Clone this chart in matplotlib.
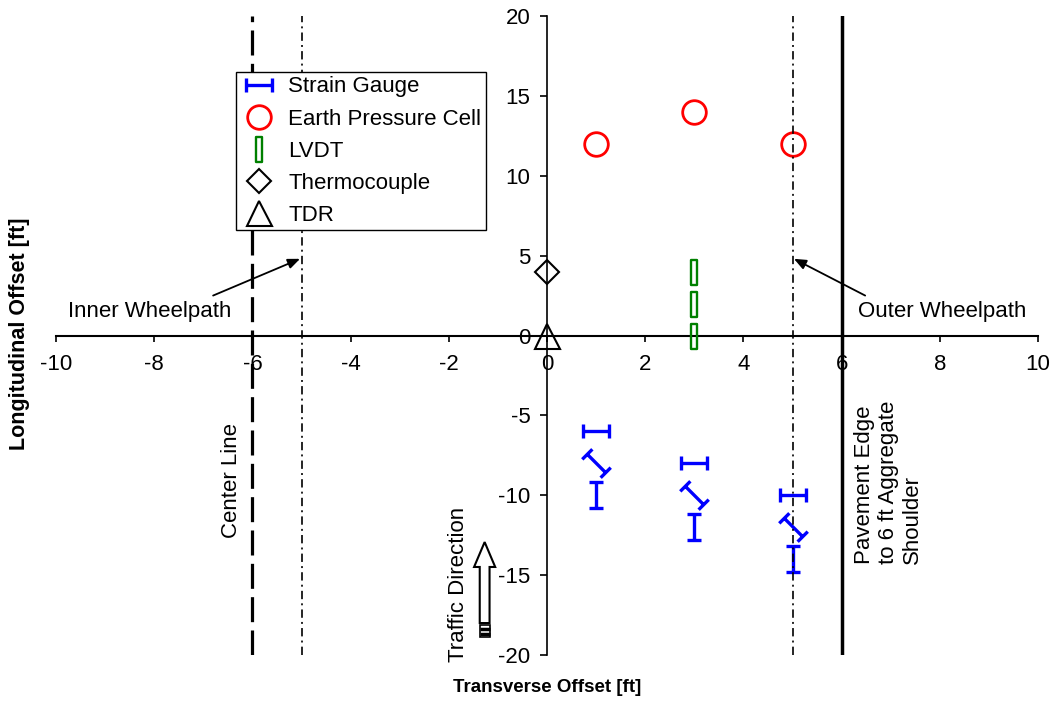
import numpy as np
import matplotlib
matplotlib.use('Agg')
import matplotlib.pyplot as plt
from matplotlib.path import Path
from matplotlib.transforms import Affine2D
from matplotlib.lines import Line2D
from matplotlib.patches import FancyArrow, Rectangle

plt.rcParams['font.family'] = ['Liberation Sans', 'DejaVu Sans']
plt.rcParams['lines.scale_dashes'] = False
plt.rcParams['axes.unicode_minus'] = False

# sensor layout [ft]
gauge_x = [1, 3, 5]
gauge_long_y = [-6, -8, -10]      # longitudinal gauges
gauge_diag_y = [-8, -10, -12]     # 45 deg gauges
gauge_trans_y = [-10, -12, -14]   # transverse gauges
epc_x = [1, 3, 5]
epc_y = [12, 14, 12]
lvdt_x = [3, 3, 3]
lvdt_y = [0, 2, 4]
thermo_x = [0]
thermo_y = [4]
tdr_x = [0]
tdr_y = [0]

center_line_x = -6
pavement_edge_x = 6
wheelpath_x = [-5, 5]

x_ticks = list(range(-10, 11, 2))
y_ticks = list(range(-20, 21, 5))


def gauge_marker(angle):
    verts = np.array([[-1, 0], [1, 0],
                      [-1, -0.55], [-1, 0.55],
                      [1, -0.55], [1, 0.55]])
    codes = [Path.MOVETO, Path.LINETO] * 3
    return Path(Affine2D().rotate_deg(angle).transform(verts), codes)


lvdt_marker = Path([[-0.23, -1], [0.23, -1], [0.23, 1], [-0.23, 1], [-0.23, -1]],
                   [Path.MOVETO, Path.LINETO, Path.LINETO, Path.LINETO, Path.CLOSEPOLY])

blue = '#0000FF'
red = '#FF0000'
green = '#008000'

fig = plt.figure(figsize=(10.55, 7.04), dpi=100)
ax = fig.add_axes([56 / 1055, 1 - 655 / 704, 982 / 1055, 639 / 704])

gauge_kw = dict(ls='none', color=blue, mfc='none', mec=blue, ms=19, mew=2.4, zorder=4)
ax.plot(gauge_x, gauge_long_y, marker=gauge_marker(0), **gauge_kw)
ax.plot(gauge_x, gauge_diag_y, marker=gauge_marker(-45), **dict(gauge_kw, ms=20.5))
ax.plot(gauge_x, gauge_trans_y, marker=gauge_marker(90), **gauge_kw)
ax.plot(epc_x, epc_y, ls='none', marker='o', mfc='none', mec=red, ms=17, mew=2, zorder=4)
ax.plot(lvdt_x, lvdt_y, ls='none', marker=lvdt_marker, mfc='none', mec=green,
        ms=18, mew=1.7, zorder=4)
ax.plot(thermo_x, thermo_y, ls='none', marker='D', mfc='none', mec='black',
        ms=12.5, mew=1.5, zorder=4)
ax.plot(tdr_x, tdr_y, ls='none', marker='^', mfc='none', mec='black',
        ms=18, mew=1.5, zorder=4)

# reference lines
ax.axvline(center_line_x, color='black', lw=2.3, dashes=(18, 6), zorder=5)
ax.axvline(pavement_edge_x, color='black', lw=2.5, zorder=5)
for wx in wheelpath_x:
    ax.axvline(wx, color='black', lw=1.2, dashes=(6, 3, 1.4, 3), zorder=5)

ax.set_xlim(-10, 10)
ax.set_ylim(-20, 20)
ax.set_xticks(x_ticks)
ax.set_yticks(y_ticks)
ax.spines['left'].set_position(('data', 0))
ax.spines['bottom'].set_position(('data', 0))
ax.spines['top'].set_visible(False)
ax.spines['right'].set_visible(False)
ax.spines['left'].set_linewidth(1.2)
ax.spines['bottom'].set_linewidth(1.5)
ax.tick_params(axis='x', direction='out', length=4, width=1.2, pad=9, labelsize=16)
ax.tick_params(axis='y', direction='out', length=5, width=1.2, pad=7, labelsize=16)

fig.text(547 / 1055, 1 - 688 / 704, 'Transverse Offset [ft]', ha='center', va='center',
         fontsize=13.5, fontweight='bold')
fig.text(20 / 1055, 1 - 334 / 704, 'Longitudinal Offset [ft]', ha='center', va='center',
         rotation=90, fontsize=15.5, fontweight='bold')

# wheelpath call-outs
arrow_kw = dict(arrowstyle='-|>,head_length=0.6,head_width=0.25', color='black',
                lw=1.3, shrinkA=0, shrinkB=0, mutation_scale=12)
ax.annotate('', xy=(-5.03, 4.8), xytext=(-6.8, 2.5), arrowprops=arrow_kw, zorder=6)
ax.annotate('', xy=(5.03, 4.8), xytext=(6.48, 2.5), arrowprops=arrow_kw, zorder=6)
ax.text(-8.09, 1.5, 'Inner Wheelpath', ha='center', va='center', fontsize=16)
ax.text(8.04, 1.5, 'Outer Wheelpath', ha='center', va='center', fontsize=16)

ax.text(-6.42, -9.05, 'Center Line', rotation=90, ha='center', va='center', fontsize=16)
ax.text(6.95, -14.3, 'Pavement Edge\nto 6 ft Aggregate\nShoulder', rotation=90,
        ha='center', va='bottom', multialignment='left', fontsize=16, linespacing=1.2)

# traffic direction block arrow
arrow_x = -1.27
ax.add_patch(FancyArrow(arrow_x, -18.0, 0, 5.07, width=0.2, head_width=0.43,
                        head_length=1.56, length_includes_head=True,
                        fc='white', ec='black', lw=1.5, zorder=5))
ax.add_patch(Rectangle((arrow_x - 0.1, -18.85), 0.2, 0.75, fc='white', ec='black',
                       lw=1.2, zorder=5))
for sy in [-18.38, -18.68]:
    ax.plot([arrow_x - 0.1, arrow_x + 0.1], [sy, sy], color='black', lw=2.5,
            solid_capstyle='butt', zorder=6)
ax.text(-1.81, -15.6, 'Traffic Direction', rotation=90, ha='center', va='center',
        fontsize=16)

handles = [
    Line2D([], [], ls='none', marker=gauge_marker(0), mfc='none', mec=blue, ms=19, mew=2.4),
    Line2D([], [], ls='none', marker='o', mfc='none', mec=red, ms=17, mew=2),
    Line2D([], [], ls='none', marker=lvdt_marker, mfc='none', mec=green, ms=18, mew=1.7),
    Line2D([], [], ls='none', marker='D', mfc='none', mec='black', ms=12.5, mew=1.5),
    Line2D([], [], ls='none', marker='^', mfc='none', mec='black', ms=18, mew=1.5),
]
labels = ['Strain Gauge', 'Earth Pressure Cell', 'LVDT', 'Thermocouple', 'TDR']
leg = ax.legend(handles, labels, loc='upper left',
                bbox_to_anchor=((236 - 56) / 982, (655 - 72) / 639),
                fontsize=16, frameon=True, fancybox=False, framealpha=1,
                edgecolor='black', borderpad=0.2, labelspacing=0.5,
                handlelength=1.7, handletextpad=0.45, borderaxespad=0)
leg.get_frame().set_linewidth(1.0)
leg.set_zorder(7)

fig.savefig('out.png', dpi=100)
